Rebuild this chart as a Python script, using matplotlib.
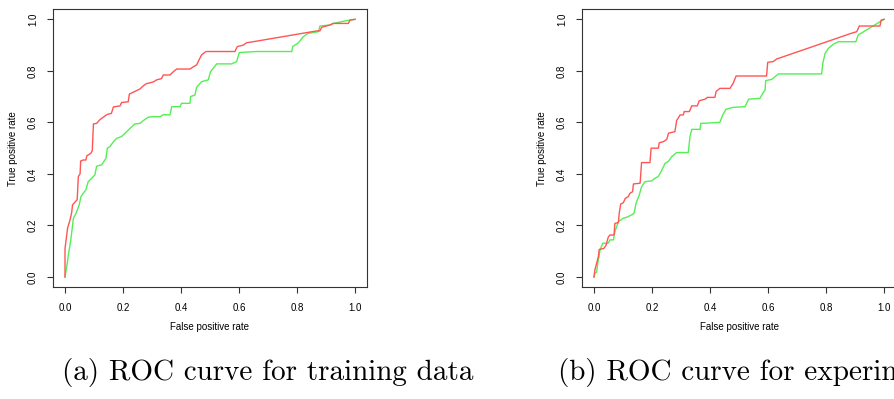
import matplotlib
matplotlib.use('Agg')
import matplotlib.pyplot as plt

# ROC curve vertices (fpr, tpr)
train_red_fpr = [0, 0, 0.009, 0.017, 0.023, 0.026, 0.034, 0.042, 0.046, 0.052, 0.054, 0.063, 0.072, 0.075, 0.089, 0.094, 0.098,
                 0.109, 0.12, 0.132, 0.144, 0.16, 0.167, 0.19, 0.195, 0.218, 0.222, 0.241, 0.259, 0.268, 0.28, 0.305, 0.316,
                 0.333, 0.339, 0.362, 0.374, 0.385, 0.431, 0.443, 0.454, 0.462, 0.471, 0.486, 0.586, 0.594, 0.615, 0.626,
                 0.649, 0.868, 0.879, 0.885, 0.914, 0.925, 0.977, 0.983, 1.0]
train_red_tpr = [0, 0.11, 0.19, 0.22, 0.25, 0.28, 0.29, 0.30, 0.39, 0.40, 0.45, 0.454, 0.454, 0.47, 0.48, 0.49, 0.594,
                 0.596, 0.61, 0.62, 0.63, 0.635, 0.66, 0.664, 0.677, 0.68, 0.71, 0.72, 0.73, 0.74, 0.75, 0.757, 0.765,
                 0.77, 0.784, 0.784, 0.797, 0.807, 0.807, 0.816, 0.823, 0.842, 0.862, 0.875, 0.875, 0.894, 0.9, 0.909,
                 0.913, 0.955, 0.955, 0.969, 0.978, 0.984, 0.984, 0.997, 1.0]

train_green_fpr = [0, 0.006, 0.011, 0.02, 0.029, 0.038, 0.049, 0.055, 0.063, 0.072, 0.08, 0.092, 0.103, 0.109, 0.126, 0.134,
                   0.141, 0.146, 0.155, 0.167, 0.178, 0.195, 0.207, 0.218, 0.233, 0.241, 0.259, 0.27, 0.287, 0.299, 0.328,
                   0.339, 0.362, 0.368, 0.397, 0.402, 0.431, 0.433, 0.448, 0.454, 0.471, 0.494, 0.502, 0.523, 0.575, 0.592,
                   0.601, 0.661, 0.782, 0.785, 0.805, 0.822, 0.839, 0.874, 0.879, 0.914, 0.925, 0.971, 1.0]
train_green_tpr = [0, 0.04, 0.08, 0.144, 0.228, 0.247, 0.28, 0.312, 0.325, 0.338, 0.37, 0.383, 0.396, 0.43, 0.435, 0.448,
                   0.46, 0.5, 0.506, 0.525, 0.538, 0.545, 0.558, 0.57, 0.586, 0.594, 0.596, 0.607, 0.62, 0.622, 0.622,
                   0.63, 0.629, 0.661, 0.661, 0.674, 0.674, 0.70, 0.706, 0.736, 0.758, 0.765, 0.797, 0.827, 0.827, 0.836,
                   0.871, 0.875, 0.875, 0.894, 0.909, 0.933, 0.946, 0.952, 0.974, 0.978, 0.984, 0.995, 1.0]

exp_red_fpr = [0, 0.003, 0.009, 0.015, 0.018, 0.034, 0.041, 0.049, 0.055, 0.069, 0.072, 0.084, 0.087, 0.092, 0.101, 0.108,
               0.118, 0.124, 0.133, 0.136, 0.159, 0.164, 0.193, 0.197, 0.222, 0.225, 0.239, 0.251, 0.257, 0.279, 0.285,
               0.297, 0.308, 0.311, 0.329, 0.337, 0.356, 0.363, 0.383, 0.391, 0.417, 0.421, 0.434, 0.469, 0.48, 0.49,
               0.595, 0.599, 0.618, 0.63, 0.888, 0.906, 0.915, 0.986, 0.99, 1.0]
exp_red_tpr = [0, 0.027, 0.053, 0.079, 0.107, 0.111, 0.122, 0.154, 0.163, 0.163, 0.208, 0.211, 0.247, 0.283, 0.288, 0.305,
               0.312, 0.325, 0.331, 0.361, 0.364, 0.444, 0.444, 0.5, 0.5, 0.521, 0.525, 0.534, 0.558, 0.564, 0.607,
               0.629, 0.629, 0.642, 0.642, 0.664, 0.664, 0.684, 0.69, 0.697, 0.697, 0.72, 0.732, 0.732, 0.752, 0.78,
               0.78, 0.833, 0.836, 0.846, 0.946, 0.952, 0.974, 0.974, 0.997, 1.0]

exp_green_fpr = [0, 0.003, 0.009, 0.013, 0.021, 0.03, 0.049, 0.055, 0.067, 0.072, 0.084, 0.101, 0.113, 0.13, 0.138, 0.145,
                 0.156, 0.164, 0.176, 0.199, 0.21, 0.222, 0.233, 0.245, 0.256, 0.268, 0.285, 0.325, 0.331, 0.337, 0.366,
                 0.368, 0.434, 0.444, 0.455, 0.478, 0.521, 0.533, 0.572, 0.582, 0.59, 0.592, 0.613, 0.636, 0.785, 0.789,
                 0.797, 0.808, 0.825, 0.843, 0.903, 0.911, 1.0]
exp_green_tpr = [0, 0.015, 0.018, 0.053, 0.105, 0.131, 0.131, 0.144, 0.144, 0.176, 0.215, 0.228, 0.232, 0.241, 0.247, 0.286,
                 0.318, 0.35, 0.37, 0.373, 0.383, 0.39, 0.413, 0.441, 0.448, 0.467, 0.483, 0.483, 0.545, 0.573, 0.573,
                 0.596, 0.60, 0.629, 0.651, 0.658, 0.661, 0.69, 0.693, 0.713, 0.726, 0.762, 0.767, 0.788, 0.788, 0.829,
                 0.868, 0.887, 0.903, 0.913, 0.913, 0.939, 1.0]

ticks = [0.0, 0.2, 0.4, 0.6, 0.8, 1.0]
tick_labels = ['0.0', '0.2', '0.4', '0.6', '0.8', '1.0']
caption_a = '(a) ROC curve for training data'
caption_b = '(b) ROC curve for experimental data'

RED = '#ff5555'
GREEN = '#55ee55'
EDGE = '#333333'

plt.rcParams['font.family'] = ['Liberation Sans', 'DejaVu Sans']

fig = plt.figure(figsize=(8.94, 3.99), dpi=100)
W, H = 894.0, 399.0

def make_axes(left_px, curves, caption, caption_x):
    ax = fig.add_axes([left_px / W, 1 - 287.3 / H, 313.2 / W, 278.3 / H])
    for fpr, tpr, col in curves:
        ax.plot(fpr, tpr, color=col, lw=1.0)
    ax.set_xlim(-0.04, 1.04)
    ax.set_ylim(-0.04, 1.04)
    ax.set_xticks(ticks)
    ax.set_xticklabels(tick_labels)
    ax.set_yticks(ticks)
    ax.set_yticklabels(tick_labels, rotation=90, va='center')
    ax.tick_params(direction='out', length=4, width=0.8, color=EDGE, labelsize=7, pad=7)
    for s in ax.spines.values():
        s.set_color(EDGE)
        s.set_linewidth(0.8)
    ax.set_xlabel('False positive rate', fontsize=7, labelpad=7)
    ax.set_ylabel('True positive rate', fontsize=7, labelpad=7)
    # caption sits under the panel; the right one runs past the edge like the reference
    fig.text(caption_x / W, 1 - 380 / H, caption, family='cmr10', fontsize=21,
             va='baseline', ha='left')
    return ax

make_axes(53.4, [(train_green_fpr, train_green_tpr, GREEN), (train_red_fpr, train_red_tpr, RED)], caption_a, 62)
make_axes(582.4, [(exp_green_fpr, exp_green_tpr, GREEN), (exp_red_fpr, exp_red_tpr, RED)], caption_b, 558)

plt.savefig('out.png', dpi=100)
